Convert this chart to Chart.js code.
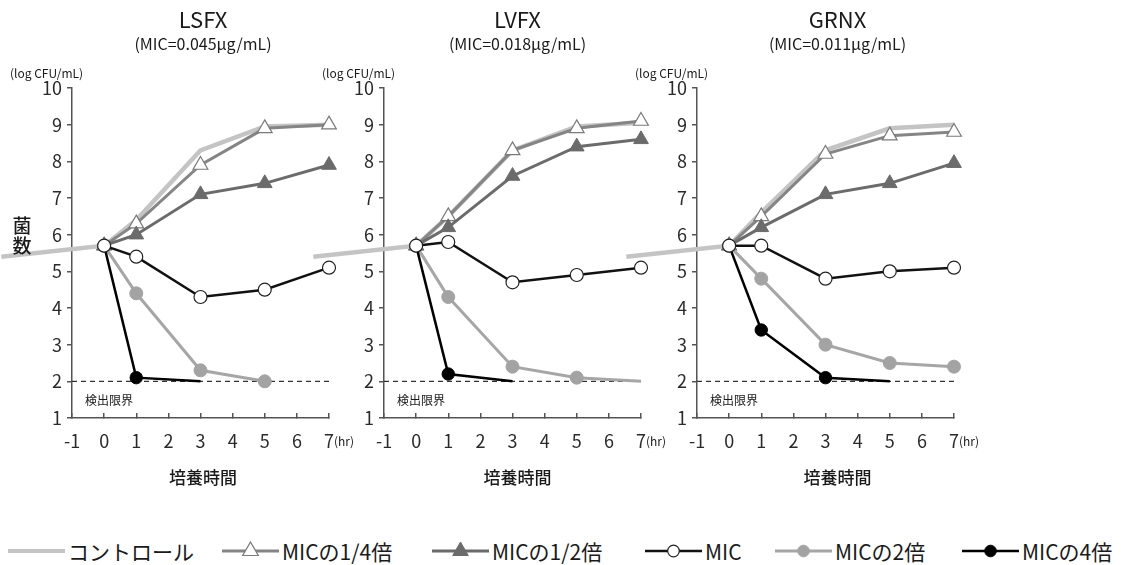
<!DOCTYPE html>
<html lang="ja">
<head>
<meta charset="utf-8">
<script src="https://cdn.jsdelivr.net/npm/chart.js@4"></script>
<style>
  body { margin: 0; background: #fff; }
  #wrap { position: relative; width: 1131px; height: 565px; overflow: hidden; font-family: "Noto Sans CJK JP", "Noto Sans", sans-serif; color: #1a1a1a; }
  #wrap canvas { position: absolute; top: 0; }
  .legend-item { position: absolute; top: 539px; height: 24px; display: flex; align-items: center; font-size: 21px; white-space: nowrap; }
  .legend-item svg { margin-right: 3px; }
</style>
</head>
<body>
<div id="wrap">
  <canvas id="chart-lsfx" width="360" height="500" style="left:0px"></canvas>
  <canvas id="chart-lvfx" width="360" height="500" style="left:312px"></canvas>
  <canvas id="chart-grnx" width="360" height="500" style="left:625px"></canvas>
  <div id="legend"></div>
</div>
<script>
// time points (hr)
const HOURS = [0, 1, 3, 5, 7];
const CONTROL_HOURS = [-3.2, 0, 1, 3, 5, 7];
const DETECTION_LIMIT = 2;
const LIMIT_SPAN = [-1, 7];

const SERIES_LABELS = ["コントロール", "MICの1/4倍", "MICの1/2倍", "MIC", "MICの2倍", "MICの4倍"];
const DRUGS = ["LSFX", "LVFX", "GRNX"];
const MIC_TEXT = ["(MIC=0.045μg/mL)", "(MIC=0.018μg/mL)", "(MIC=0.011μg/mL)"];

// log CFU/mL
const LSFX_CONTROL = [5.4, 5.7, 6.4, 8.3, 8.95, 9.0];
const LSFX_QUARTER = [5.7, 6.3, 7.9, 8.9, 9.0];
const LSFX_HALF = [5.7, 6.0, 7.1, 7.4, 7.9];
const LSFX_MIC = [5.7, 5.4, 4.3, 4.5, 5.1];
const LSFX_X2 = [5.7, 4.4, 2.3, 2.0];
const LSFX_X4 = [5.7, 2.1, 2.0];

const LVFX_CONTROL = [5.4, 5.7, 6.5, 8.3, 8.95, 9.05];
const LVFX_QUARTER = [5.7, 6.5, 8.3, 8.9, 9.1];
const LVFX_HALF = [5.7, 6.2, 7.6, 8.4, 8.6];
const LVFX_MIC = [5.7, 5.8, 4.7, 4.9, 5.1];
const LVFX_X2 = [5.7, 4.3, 2.4, 2.1, 2.0];
const LVFX_X4 = [5.7, 2.2, 2.0];

const GRNX_CONTROL = [5.4, 5.7, 6.6, 8.3, 8.9, 9.0];
const GRNX_QUARTER = [5.7, 6.5, 8.2, 8.7, 8.8];
const GRNX_HALF = [5.7, 6.2, 7.1, 7.4, 7.95];
const GRNX_MIC = [5.7, 5.7, 4.8, 5.0, 5.1];
const GRNX_X2 = [5.7, 4.8, 3.0, 2.5, 2.4];
const GRNX_X4 = [5.7, 3.4, 2.1, 2.0];

// number of measured points; the rest are below the detection limit (no marker)
const LSFX_X2_MEASURED = 4;
const LSFX_X4_MEASURED = 2;
const LVFX_X2_MEASURED = 4;
const LVFX_X4_MEASURED = 2;
const GRNX_X2_MEASURED = 5;
const GRNX_X4_MEASURED = 3;

const FONT = "'Noto Sans CJK JP', 'Noto Sans', sans-serif";

const COLORS = {
  text: "#1a1a1a",
  tick: "#2a2a2a",
  axis: "#555555",
  limit: "#333333",
};

const STYLES = [
  { line: "#c4c4c4", width: 4.5, marker: "circle", radius: 0, fill: "#c4c4c4", edge: "#c4c4c4", edgeWidth: 0 },
  { line: "#858585", width: 3, marker: "triangle", radius: 8.5, fill: "#ffffff", edge: "#7a7a7a", edgeWidth: 1.2 },
  { line: "#6b6b6b", width: 3, marker: "triangle", radius: 8.5, fill: "#6b6b6b", edge: "#6b6b6b", edgeWidth: 1 },
  { line: "#111111", width: 2.5, marker: "circle", radius: 6.5, fill: "#ffffff", edge: "#222222", edgeWidth: 1.2 },
  { line: "#a6a6a6", width: 3, marker: "circle", radius: 6.5, fill: "#a3a3a3", edge: "#a3a3a3", edgeWidth: 1 },
  { line: "#000000", width: 2.5, marker: "circle", radius: 6.2, fill: "#000000", edge: "#000000", edgeWidth: 1 },
];

// per-panel text placement tweaks
const TITLE_SHIFT = [2.5, 5, 12];

function points(xs, ys) {
  return ys.map((y, i) => ({ x: xs[i], y: y }));
}

function makeDataset(idx, xs, ys, measured) {
  const s = STYLES[idx];
  const count = measured === undefined ? ys.length : measured;
  return {
    label: SERIES_LABELS[idx],
    data: points(xs, ys),
    borderColor: s.line,
    borderWidth: s.width,
    pointStyle: s.marker,
    pointRadius: (ctx) => (ctx.dataIndex < count ? s.radius : 0),
    pointBackgroundColor: s.fill,
    pointBorderColor: s.edge,
    pointBorderWidth: s.edgeWidth,
    tension: 0,
    clip: false,
  };
}

const panelText = {
  id: "panelText",
  afterDraw(chart, args, opts) {
    const { ctx, chartArea } = chart;
    const yScale = chart.scales.y;
    const cx = (chartArea.left + chartArea.right) / 2 + opts.shift;
    ctx.save();
    ctx.fillStyle = COLORS.text;
    ctx.textBaseline = "middle";

    ctx.textAlign = "center";
    ctx.font = "22px " + FONT;
    ctx.fillText(opts.title, cx, chartArea.top - 68);
    ctx.font = "16px " + FONT;
    ctx.fillText(opts.sub, cx, chartArea.top - 44);
    ctx.font = "500 17px " + FONT;
    ctx.fillText("培養時間", cx, chartArea.bottom + 60);

    ctx.textAlign = "left";
    ctx.font = "12px " + FONT;
    ctx.fillText("(log CFU/mL)", chartArea.left - 62, chartArea.top - 15);
    ctx.fillText("(hr)", chartArea.right + 5, chartArea.bottom + 23);
    ctx.fillText("検出限界", chartArea.left + 13, yScale.getPixelForValue(DETECTION_LIMIT) + 19);

    if (opts.yTitle) {
      ctx.textAlign = "center";
      ctx.font = "500 19px " + FONT;
      ctx.fillText("菌", chartArea.left - 50, chartArea.top + 138);
      ctx.fillText("数", chartArea.left - 50, chartArea.top + 158);
    }
    ctx.restore();
  },
};

function buildPanel(canvasId, p, series, measured) {
  const datasets = [
    makeDataset(3, HOURS, series.mic),
    makeDataset(5, HOURS, series.x4, measured.x4),
    makeDataset(4, HOURS, series.x2, measured.x2),
    makeDataset(2, HOURS, series.half),
    makeDataset(1, HOURS, series.quarter),
    makeDataset(0, CONTROL_HOURS, series.control),
    {
      label: "検出限界",
      data: points(LIMIT_SPAN, [DETECTION_LIMIT, DETECTION_LIMIT]),
      borderColor: COLORS.limit,
      borderWidth: 1.3,
      borderDash: [5, 4],
      pointRadius: 0,
      clip: false,
    },
  ];

  return new Chart(document.getElementById(canvasId), {
    type: "line",
    data: { datasets },
    options: {
      responsive: false,
      animation: false,
      events: [],
      layout: { padding: { top: 88, left: 0, right: 31, bottom: 0 } },
      plugins: {
        legend: { display: false },
        tooltip: { enabled: false },
        panelText: { title: DRUGS[p], sub: MIC_TEXT[p], shift: TITLE_SHIFT[p], yTitle: p === 0 },
      },
      scales: {
        x: {
          type: "linear",
          min: -1,
          max: 7,
          afterFit: (scale) => { scale.height = 82; },
          border: { color: COLORS.axis, width: 1.5 },
          grid: { drawOnChartArea: false, color: COLORS.axis, lineWidth: 1.5, tickLength: -5 },
          ticks: {
            stepSize: 1,
            maxRotation: 0,
            autoSkip: false,
            padding: 17,
            color: COLORS.tick,
            font: { family: FONT, size: 18 },
          },
        },
        y: {
          min: 1,
          max: 10,
          afterFit: (scale) => { scale.width = 72; },
          border: { color: COLORS.axis, width: 1.5 },
          grid: { drawOnChartArea: false, color: COLORS.axis, lineWidth: 1.5, tickLength: 5 },
          ticks: {
            stepSize: 1,
            padding: 5,
            color: COLORS.tick,
            font: { family: FONT, size: 18 },
          },
        },
      },
    },
    plugins: [panelText],
  });
}

function legendIcon(s) {
  const w = 57, h = 22, cx = 28.5, cy = 11;
  let marker = "";
  if (s.marker === "triangle") {
    const r = 9;
    const pts = [
      [cx, cy - r],
      [cx + r * 0.866, cy + r / 2],
      [cx - r * 0.866, cy + r / 2],
    ].map((q) => q.join(",")).join(" ");
    marker = `<polygon points="${pts}" fill="${s.fill}" stroke="${s.edge}" stroke-width="${s.edgeWidth}"/>`;
  } else if (s.radius > 0) {
    marker = `<circle cx="${cx}" cy="${cy}" r="5.8" fill="${s.fill}" stroke="${s.edge}" stroke-width="${s.edgeWidth}"/>`;
  }
  return `<svg width="${w}" height="${h}"><line x1="0" y1="${cy}" x2="${w}" y2="${cy}" stroke="${s.line}" stroke-width="${Math.min(s.width, 4)}"/>${marker}</svg>`;
}

function buildLegend() {
  const lefts = [8, 222, 432, 645, 775, 962];
  const box = document.getElementById("legend");
  box.innerHTML = SERIES_LABELS.map((label, i) =>
    `<div class="legend-item" style="left:${lefts[i]}px">${legendIcon(STYLES[i])}<span>${label}</span></div>`
  ).join("");
}

function initCharts() {
  buildPanel("chart-lsfx", 0,
    { control: LSFX_CONTROL, quarter: LSFX_QUARTER, half: LSFX_HALF, mic: LSFX_MIC, x2: LSFX_X2, x4: LSFX_X4 },
    { x2: LSFX_X2_MEASURED, x4: LSFX_X4_MEASURED });
  buildPanel("chart-lvfx", 1,
    { control: LVFX_CONTROL, quarter: LVFX_QUARTER, half: LVFX_HALF, mic: LVFX_MIC, x2: LVFX_X2, x4: LVFX_X4 },
    { x2: LVFX_X2_MEASURED, x4: LVFX_X4_MEASURED });
  buildPanel("chart-grnx", 2,
    { control: GRNX_CONTROL, quarter: GRNX_QUARTER, half: GRNX_HALF, mic: GRNX_MIC, x2: GRNX_X2, x4: GRNX_X4 },
    { x2: GRNX_X2_MEASURED, x4: GRNX_X4_MEASURED });
  buildLegend();
}

document.addEventListener("DOMContentLoaded", initCharts);
</script>
</body>
</html>
